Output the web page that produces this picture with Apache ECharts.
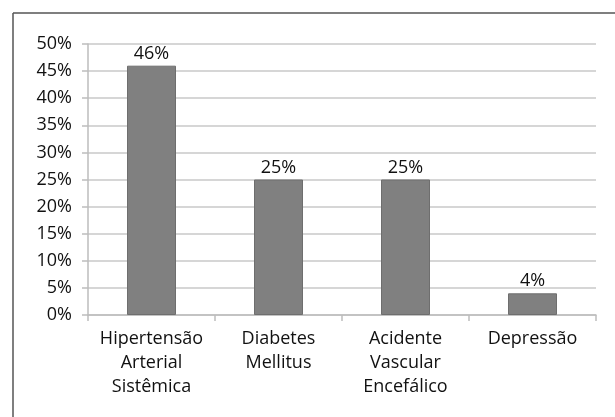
<!DOCTYPE html>
<html>
<head>
<meta charset="utf-8">
<script src="https://cdn.jsdelivr.net/npm/echarts@6/dist/echarts.min.js"></script>
<style>
  html, body { margin: 0; padding: 0; background: #fff; }
  #chart { width: 615px; height: 417px; }
</style>
</head>
<body>
<div id="chart"></div>
<script>
// data
const categories = ["Hipertensão\nArterial\nSistêmica", "Diabetes\nMellitus", "Acidente\nVascular\nEncefálico", "Depressão"];
const values = [46, 25, 25, 4];

const font = "'Open Sans', sans-serif";
const chart = echarts.init(document.getElementById("chart"));

chart.setOption({
  backgroundColor: "#fff",
  animation: false,
  // frame: only top and left edges show in the picture
  graphic: [
    { type: "line", shape: { x1: 13, y1: 13, x2: 615, y2: 13 }, style: { stroke: "#555", lineWidth: 1.5 } },
    { type: "line", shape: { x1: 13, y1: 13, x2: 13, y2: 417 }, style: { stroke: "#555", lineWidth: 1.5 } }
  ],
  grid: { left: 88, right: 19, top: 44, bottom: 102 },
  xAxis: {
    type: "category",
    data: categories,
    axisLine: { lineStyle: { color: "#bdbdbd", width: 1.5 } },
    axisTick: { show: true, alignWithLabel: false, length: 6, lineStyle: { color: "#bdbdbd", width: 1.5 } },
    axisLabel: { color: "#111", fontFamily: font, fontWeight: 500, fontSize: 18, lineHeight: 24, margin: 12, interval: 0 }
  },
  yAxis: {
    type: "value",
    min: 0,
    max: 50,
    interval: 5,
    axisLine: { show: true, lineStyle: { color: "#bdbdbd", width: 1.5 } },
    axisTick: { show: true, length: 6, lineStyle: { color: "#bdbdbd", width: 1.5 } },
    splitLine: { lineStyle: { color: "#c8c8c8", width: 1.5 } },
    axisLabel: { color: "#111", fontFamily: font, fontWeight: 500, fontSize: 18, margin: 16, formatter: "{value}%" }
  },
  series: [{
    type: "bar",
    data: values,
    barWidth: 49,
    itemStyle: { color: "#808080", borderColor: "#6e6e6e", borderWidth: 1 },
    label: { show: true, position: "top", distance: 3, formatter: "{c}%", color: "#111", fontFamily: font, fontWeight: 500, fontSize: 18 }
  }]
});
</script>
</body>
</html>
